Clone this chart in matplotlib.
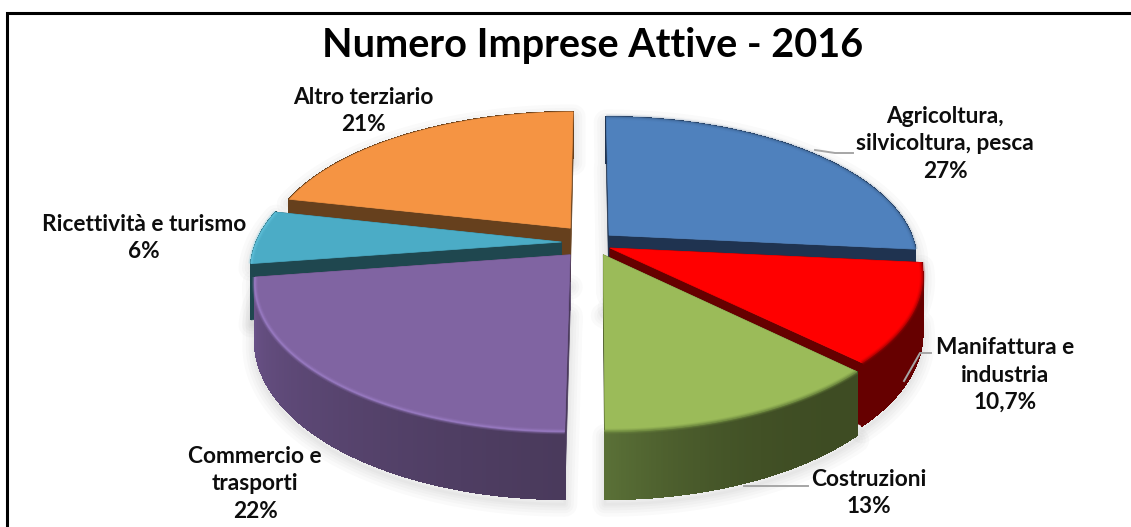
import numpy as np
import matplotlib
matplotlib.use("Agg")
import matplotlib.pyplot as plt
from matplotlib.patches import Polygon
from matplotlib.colors import to_rgb

plt.rcParams['font.family'] = ['Lato', 'DejaVu Sans']

title = "Numero Imprese Attive - 2016"
categories = ["Agricoltura,\nsilvicoltura, pesca", "Manifattura e\nindustria", "Costruzioni",
              "Commercio e\ntrasporti", "Ricettività e turismo", "Altro terziario"]
values = [26.5, 10.8, 12.6, 22.5, 5.9, 21.4]
value_labels = ["27%", "10,7%", "13%", "22%", "6%", "21%"]

top_colors = ["#4f81bd", "#ff0000", "#9bbb59", "#8064a2", "#4bacc6", "#f59443"]
cut_colors = ["#1f3350", "#660000", "#3e4c23", "#4a3a5c", "#1f474f", "#66401d"]
wall_start = ["#1f3350", "#660000", "#3e4c23", "#4a3a5c", "#1f474f", "#66401d"]
wall_end = ["#1f3350", "#660000", "#5a7037", "#6a5288", "#1f474f", "#66401d"]
wall_power = [1.0, 1.0, 2.6, 1.2, 1.0, 1.0]
rim_colors = ["#3f6797", "#b00000", "#6f8a40", "#9a7cc4", "#62c4de", "#f59443"]
rim_strength = [0.5, 0.8, 1.0, 1.0, 0.8, 0.0]
explode_xy = [(0.063, 0.07), (0.065, -0.021), (0.043, -0.068), (-0.064, -0.068), (-0.094, 0.021), (-0.066, 0.121)]
label_xy = [(945, 144), (1005, 375), (869, 493), (255, 484), (144, 238), (363, 111)]

W, H = 1131, 527
CX, CY = 590, 245
RX, RY, K, DEPTH = 306, 142, 0.175, 55

fig = plt.figure(figsize=(W / 100, H / 100), dpi=100, facecolor="white")
ax = fig.add_axes([0, 0, 1, 1])
ax.set_xlim(0, W)
ax.set_ylim(H, 0)
ax.axis("off")


def project(x, y, drop=0.0):
    d = 1 + K * y
    return CX + RX * x / d, CY - RY * y / d + drop / d


fractions = np.array(values) / np.sum(values)
ends = 90 - 360 * np.cumsum(fractions)
starts = ends + 360 * fractions
mids = (starts + ends) / 2

slices = []
for i in range(len(values)):
    ox, oy = explode_xy[i]
    t = np.radians(np.linspace(starts[i], ends[i], 120))
    slices.append((ox, oy, ox + np.cos(t), oy + np.sin(t)))

# soft shadow below the pie
for i, (ox, oy, xs, ys) in enumerate(slices):
    px, py = project(xs, ys, DEPTH)
    qx, qy = project(xs, ys, 0)
    ax0, ay0 = project(ox, oy, DEPTH)
    outline = np.column_stack([np.r_[ax0, qx, px[::-1]], np.r_[ay0, qy, py[::-1]]])
    for lw in (18, 13, 9, 5, 2):
        ax.add_patch(Polygon(outline + [0, 5], closed=True, fc="none", ec="#808080",
                             lw=lw, alpha=0.04, joinstyle="round", zorder=1))

order = np.argsort([-np.sin(np.radians(m)) for m in mids])
z = 2
for i in order:
    ox, oy, xs, ys = slices[i]
    tx, ty = project(xs, ys)
    bx, by = project(xs, ys, DEPTH)
    a_tx, a_ty = project(ox, oy)
    a_bx, a_by = project(ox, oy, DEPTH)
    # cut faces
    for j in (0, -1):
        ax.add_patch(Polygon([(a_tx, a_ty), (tx[j], ty[j]), (bx[j], by[j]), (a_bx, a_by)],
                             closed=True, fc=cut_colors[i], ec=cut_colors[i], lw=0.5, zorder=z))
    # outer wall: a solid base, then a gradient over it
    c0, c1 = np.array(to_rgb(wall_start[i])), np.array(to_rgb(wall_end[i]))
    ax.add_patch(Polygon(np.column_stack([np.r_[tx, bx[::-1]], np.r_[ty, by[::-1]]]), closed=True,
                         fc=wall_start[i], ec=wall_start[i], lw=0.5, zorder=z))
    n = len(tx)
    for k in range(n - 1):
        f = (k / (n - 2)) ** wall_power[i]
        col = c0 + (c1 - c0) * f
        ax.add_patch(Polygon([(tx[k], ty[k]), (tx[k + 1], ty[k + 1]), (bx[k + 1], by[k + 1]), (bx[k], by[k])],
                             closed=True, fc=col, ec=col, lw=0.8, antialiased=False, zorder=z))
    # top face
    ax.add_patch(Polygon(np.column_stack([np.r_[a_tx, tx], np.r_[a_ty, ty]]), closed=True,
                         fc=top_colors[i], ec=top_colors[i], lw=0.5, zorder=z + 1))
    for lw, al in ((4, 0.2), (2.5, 0.35), (1.2, 0.7)):
        if rim_strength[i] > 0:
            ax.plot(tx, ty, color=rim_colors[i], lw=lw, alpha=al * rim_strength[i], zorder=z + 1,
                    solid_capstyle="butt")
    z += 2

# leader lines
leaders = [([815, 835, 853], [150, 153, 153]), ([904, 920, 931], [381, 353, 353]), ([744, 808], [486, 486])]
for lx, ly in leaders:
    ax.plot(lx, ly, color="#a6a6a6", lw=1.4, zorder=30)

# labels
for name, val, (x, y) in zip(categories, value_labels, label_xy):
    ax.text(x, y, name + "\n" + val, ha="center", va="center", fontsize=16.3, fontweight="bold",
            color="#0d0d0d", linespacing=1.36, zorder=31)

ax.text(593, 46, title, ha="center", va="center", fontsize=28.5, fontweight="bold", color="black", zorder=31)

# frame
ax.plot([7, 7, W], [H, 12.5, 12.5], color="black", lw=2.2, zorder=40, solid_joinstyle="miter")

fig.savefig("out.png", dpi=100, facecolor="white")
